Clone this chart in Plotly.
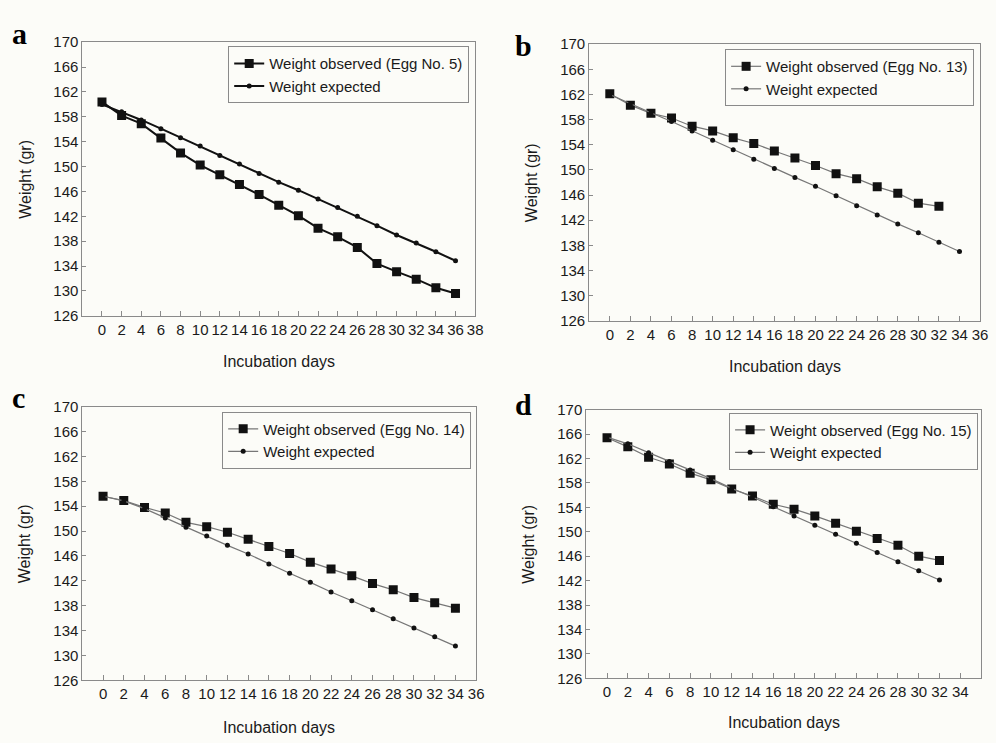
import plotly.graph_objects as go

# ---------------- data ----------------
days_a = [0, 2, 4, 6, 8, 10, 12, 14, 16, 18, 20, 22, 24, 26, 28, 30, 32, 34, 36]
obs_a = [160.4, 158.2, 156.9, 154.6, 152.2, 150.25, 148.7, 147.1, 145.5, 143.8,
         142.1, 140.1, 138.7, 137.0, 134.4, 133.1, 131.9, 130.5, 129.6]
exp_a = [160.0, 158.8, 157.5, 156.1, 154.65, 153.3, 151.8, 150.4, 148.9, 147.5,
         146.2, 144.8, 143.4, 142.0, 140.5, 139.0, 137.7, 136.3, 134.85]

days_b_obs = [0, 2, 4, 6, 8, 10, 12, 14, 16, 18, 20, 22, 24, 26, 28, 30, 32]
obs_b = [162.1, 160.3, 159.0, 158.25, 156.95, 156.2, 155.1, 154.2, 153.0, 151.9,
         150.7, 149.4, 148.6, 147.3, 146.3, 144.7, 144.2]
days_b_exp = [0, 2, 4, 6, 8, 10, 12, 14, 16, 18, 20, 22, 24, 26, 28, 30, 32, 34]
exp_b = [162.0, 160.5, 159.1, 157.7, 156.2, 154.7, 153.2, 151.7, 150.2, 148.8,
         147.4, 145.9, 144.3, 142.8, 141.4, 140.0, 138.5, 137.0]

days_c = [0, 2, 4, 6, 8, 10, 12, 14, 16, 18, 20, 22, 24, 26, 28, 30, 32, 34]
obs_c = [155.6, 154.9, 153.8, 152.9, 151.4, 150.7, 149.8, 148.7, 147.5, 146.4,
         145.0, 143.9, 142.8, 141.55, 140.55, 139.3, 138.45, 137.6]
exp_c = [155.6, 154.85, 153.6, 152.1, 150.6, 149.2, 147.7, 146.3, 144.7, 143.2,
         141.75, 140.2, 138.8, 137.35, 135.9, 134.4, 133.0, 131.5]

days_d = [0, 2, 4, 6, 8, 10, 12, 14, 16, 18, 20, 22, 24, 26, 28, 30, 32]
obs_d = [165.4, 163.9, 162.2, 161.1, 159.6, 158.5, 157.0, 155.85, 154.5, 153.7,
         152.6, 151.4, 150.1, 148.9, 147.8, 146.0, 145.3]
exp_d = [165.5, 164.4, 162.95, 161.5, 160.1, 158.7, 157.1, 155.7, 154.1, 152.6,
         151.05, 149.6, 148.1, 146.6, 145.1, 143.6, 142.1]

y_ticks = [126, 130, 134, 138, 142, 146, 150, 154, 158, 162, 166, 170]
x_ticks_a = list(range(0, 39, 2))
x_ticks_b = list(range(0, 37, 2))
x_ticks_c = list(range(0, 37, 2))
x_ticks_d = list(range(0, 35, 2))

egg_labels = ["Weight observed (Egg No. 5)", "Weight observed (Egg No. 13)",
              "Weight observed (Egg No. 14)", "Weight observed (Egg No. 15)"]
exp_label = "Weight expected"
panel_letters = ["a", "b", "c", "d"]

# ---------------- layout geometry (pixels) ----------------
W, H = 996, 743
BG = "#fcfcf8"
FONT = "Liberation Sans, Arial, sans-serif"
TXT = "#1a1a1a"
AXC = "#8a8a8a"

# left, top, right, bottom of each plot area in pixels
boxes = [(83, 34, 479, 314), (594, 36, 988, 319), (83, 407, 480, 687), (591, 410, 989, 685)]
xranges = [[-2, 38], [-2, 36], [-2, 36], [-2, 36]]
xticks = [x_ticks_a, x_ticks_b, x_ticks_c, x_ticks_d]
# legend right edge, top edge (pixels)
legend_pos = [(473, 38), (982, 41), (475, 412), (986, 413)]
letter_pos = [(20, 25), (528, 37), (19, 398), (528, 405)]
xtitle_y = [361, 366, 735, 730]

fig = go.Figure()

series = [
    (days_a, obs_a, days_a, exp_a),
    (days_b_obs, obs_b, days_b_exp, exp_b),
    (days_c, obs_c, days_c, exp_c),
    (days_d, obs_d, days_d, exp_d),
]

for i, (xo, yo, xe, ye) in enumerate(series):
    ax = "" if i == 0 else str(i + 1)
    lg = "legend" if i == 0 else f"legend{i + 1}"
    lcol = "#111111" if i == 0 else "#777777"
    lw = 2 if i == 0 else 1.2
    fig.add_trace(go.Scatter(
        x=xo, y=yo, mode="lines+markers", name=egg_labels[i],
        line=dict(color=lcol, width=lw),
        marker=dict(symbol="square", size=9, color="#111111"),
        xaxis="x" + ax, yaxis="y" + ax, legend=lg))
    fig.add_trace(go.Scatter(
        x=xe, y=ye, mode="lines+markers", name=exp_label,
        line=dict(color=lcol, width=lw),
        marker=dict(symbol="circle", size=5, color="#111111"),
        xaxis="x" + ax, yaxis="y" + ax, legend=lg))

layout = dict(
    width=W, height=H, margin=dict(l=0, r=0, t=0, b=0),
    paper_bgcolor=BG, plot_bgcolor=BG,
    font=dict(family=FONT, size=15, color=TXT),
    showlegend=True,
)

annotations = []
for i, (l, t, r, b) in enumerate(boxes):
    ax = "" if i == 0 else str(i + 1)
    xd = [l / W, r / W]
    yd = [1 - b / H, 1 - t / H]
    layout["xaxis" + ax] = dict(
        domain=xd, range=xranges[i], tickvals=xticks[i],
        ticks="inside", ticklen=5, tickcolor=AXC,
        showline=True, linecolor=AXC, linewidth=1, mirror=True,
        showgrid=False, zeroline=False, ticklabeloverflow="allow",
        anchor="y" + ax, tickfont=dict(size=15, color=TXT),
    )
    layout["yaxis" + ax] = dict(
        domain=yd, range=[126, 170], tickvals=y_ticks,
        ticks="inside", ticklen=4, tickcolor=AXC,
        showline=True, linecolor=AXC, linewidth=1, mirror=True,
        showgrid=False, zeroline=False,
        anchor="x" + ax, tickfont=dict(size=15, color=TXT),
    )
    lx, ly = legend_pos[i]
    layout["legend" if i == 0 else f"legend{i + 1}"] = dict(
        x=lx / W, y=1 - ly / H, xanchor="right", yanchor="top",
        xref="paper", yref="paper",
        bgcolor=BG, bordercolor=AXC, borderwidth=1,
        font=dict(size=15, color=TXT, family=FONT),
        tracegroupgap=0, itemwidth=30,
    )
    # y-axis title
    annotations.append(dict(
        text="Weight (gr)", xref="paper", yref="paper",
        x=(l - 58) / W, y=1 - ((t + b) / 2) / H, showarrow=False,
        textangle=-90, font=dict(size=16, color=TXT, family=FONT),
        xanchor="center", yanchor="middle"))
    # x-axis title
    annotations.append(dict(
        text="Incubation days", xref="paper", yref="paper",
        x=((l + r) / 2) / W, y=1 - xtitle_y[i] / H, showarrow=False,
        font=dict(size=16, color=TXT, family=FONT),
        xanchor="center", yanchor="middle"))
    # panel letter
    px, py = letter_pos[i]
    annotations.append(dict(
        text="<b>%s</b>" % panel_letters[i], xref="paper", yref="paper",
        x=px / W, y=1 - py / H, showarrow=False,
        font=dict(size=30, color="#000000", family="Liberation Serif, Times New Roman, serif"),
        xanchor="center", yanchor="middle"))

layout["annotations"] = annotations
fig.update_layout(**layout)

# remove the browser's default page margin so the figure fills the window exactly
fig.write_html(
    "out.html",
    config={"displayModeBar": False},
    post_script="document.body.style.margin='0';document.body.style.overflow='hidden';",
)
